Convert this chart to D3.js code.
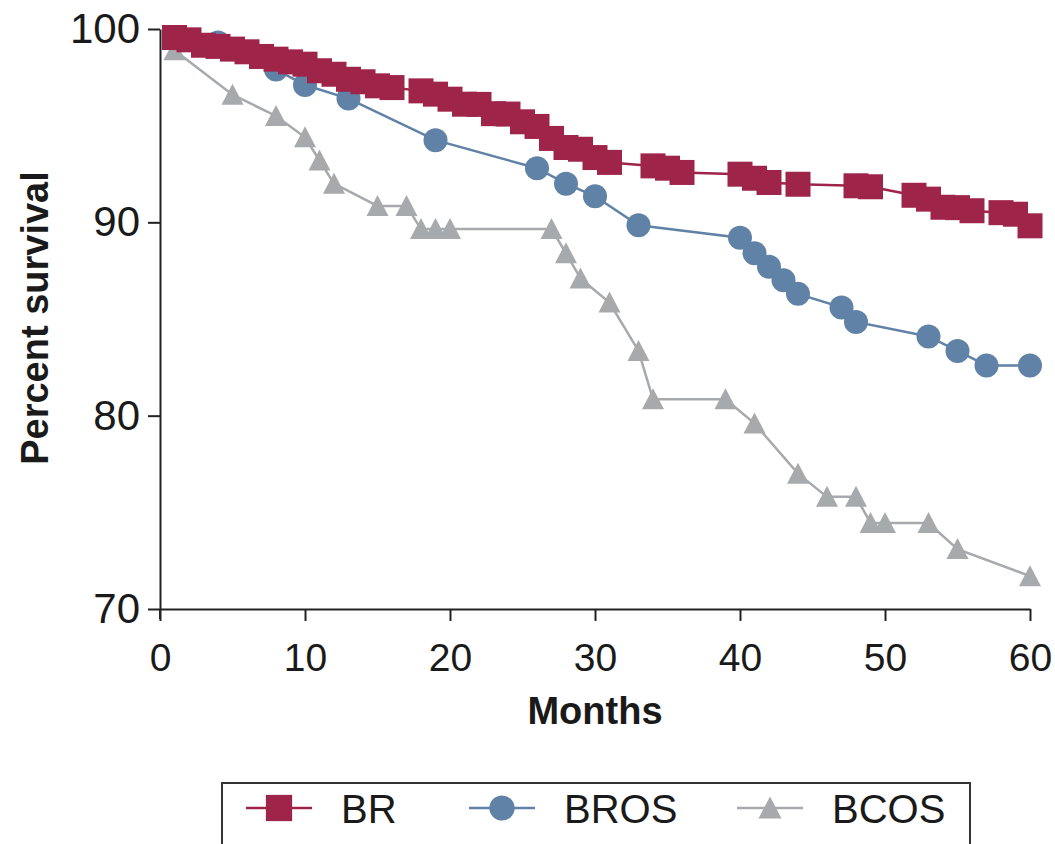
<!DOCTYPE html>
<html>
<head>
<meta charset="utf-8">
<script src="https://cdn.jsdelivr.net/npm/d3@7"></script>
<style>
  body { margin: 0; background: #fff; }
  svg { font-family: "Liberation Sans", Arial, Helvetica, sans-serif; }
</style>
</head>
<body>
<svg id="chart" width="1055" height="844"></svg>
<script>
// 数据
const brMonths = [1, 2, 3, 4, 5, 6, 7, 8, 9, 10, 11, 12, 13, 14, 15, 16, 18, 19, 20, 21, 22, 23, 24, 25, 26, 27, 28, 29, 30, 31, 34, 35, 36, 40, 41, 42, 44, 48, 49, 52, 53, 54, 55, 56, 58, 59, 60];
const brValues = [99.56, 99.44, 99.16, 99.1, 98.96, 98.82, 98.58, 98.44, 98.3, 98.18, 97.84, 97.66, 97.4, 97.27, 97.06, 96.97, 96.8, 96.63, 96.37, 96.11, 96.1, 95.62, 95.6, 95.2, 94.96, 94.34, 93.87, 93.78, 93.35, 93.1, 92.92, 92.8, 92.58, 92.49, 92.28, 92.06, 91.97, 91.89, 91.84, 91.4, 91.2, 90.78, 90.76, 90.6, 90.5, 90.42, 89.82];

const brosMonths = [4, 8, 10, 13, 19, 26, 28, 30, 33, 40, 41, 42, 43, 44, 47, 48, 53, 55, 57, 60];
const brosValues = [99.3, 97.9, 97.1, 96.4, 94.25, 92.8, 92.0, 91.35, 89.85, 89.2, 88.4, 87.7, 87.0, 86.3, 85.6, 84.85, 84.1, 83.35, 82.6, 82.6];

const bcosMonths = [1, 5, 8, 10, 11, 12, 15, 17, 18, 19, 20, 27, 28, 29, 31, 33, 34, 39, 41, 44, 46, 48, 49, 50, 53, 55, 60];
const bcosValues = [98.9, 96.6, 95.5, 94.4, 93.2, 92.0, 90.85, 90.85, 89.65, 89.65, 89.65, 89.65, 88.4, 87.1, 85.85, 83.35, 80.85, 80.85, 79.6, 77.0, 75.8, 75.8, 74.45, 74.45, 74.45, 73.1, 71.7];

const xTicks = [0, 10, 20, 30, 40, 50, 60];
const yTicks = [70, 80, 90, 100];
const seriesNames = ['BR', 'BROS', 'BCOS'];

const colors = {BR: '#9f2449', BROS: '#5f82a6', BCOS: '#a6aaac'};

const svg = d3.select('#chart');

const x = d3.scaleLinear().domain([0, 60]).range([160, 1030]);
const y = d3.scaleLinear().domain([70, 100]).range([609, 29]);

// 坐标轴
const xAxis = svg.append('g')
  .attr('transform', 'translate(0,609)')
  .call(d3.axisBottom(x).tickValues(xTicks).tickSize(12).tickPadding(22).tickSizeOuter(0));
const yAxis = svg.append('g')
  .attr('transform', 'translate(160,0)')
  .call(d3.axisLeft(y).tickValues(yTicks).tickSize(12).tickPadding(8).tickSizeOuter(0));

[xAxis, yAxis].forEach((g) => {
  g.select('.domain').attr('stroke', '#222').attr('stroke-width', 2);
  g.selectAll('.tick line').attr('stroke', '#222').attr('stroke-width', 2);
  g.selectAll('.tick text').attr('fill', '#1a1a1a')
    .style('font-family', '"Liberation Sans", Arial, sans-serif');
});
xAxis.selectAll('.tick text').style('font-size', '39px');
yAxis.selectAll('.tick text').style('font-size', '42px');
// y轴往下多出一点
svg.append('line')
  .attr('x1', 160).attr('x2', 160).attr('y1', 609).attr('y2', 619)
  .attr('stroke', '#222').attr('stroke-width', 2);

// 轴标题
svg.append('text')
  .attr('x', 595).attr('y', 724)
  .attr('text-anchor', 'middle')
  .style('font-size', '38px').style('font-weight', 'bold')
  .attr('fill', '#1a1a1a')
  .text('Months');
svg.append('text')
  .attr('transform', 'translate(48,318) rotate(-90)')
  .attr('text-anchor', 'middle')
  .style('font-size', '38px').style('font-weight', 'bold')
  .attr('fill', '#1a1a1a')
  .text('Percent survival');

// 标记形状
function marker(g, name, cx, cy, s) {
  const c = colors[name];
  s = s || 1;
  if (name === 'BR') {
    g.append('rect').attr('x', cx - 12.5 * s).attr('y', cy - 12.5 * s)
      .attr('width', 25 * s).attr('height', 25 * s).attr('fill', c);
  } else if (name === 'BROS') {
    g.append('circle').attr('cx', cx).attr('cy', cy).attr('r', 12 * s).attr('fill', c);
  } else {
    g.append('path')
      .attr('d', `M${cx},${cy - 11 * s}L${cx + 11 * s},${cy + 10 * s}L${cx - 11 * s},${cy + 10 * s}Z`)
      .attr('fill', c);
  }
}

const line = d3.line()
  .x((d) => {return x(d.m);})
  .y((d) => {return y(d.v);});

function drawSeries(name, months, values) {
  const pts = months.map((m, i) => ({m: m, v: values[i]}));
  const g = svg.append('g');
  g.append('path')
    .attr('d', line(pts))
    .attr('fill', 'none')
    .attr('stroke', colors[name])
    .attr('stroke-width', 2.5);
  pts.forEach((d) => marker(g, name, x(d.m), y(d.v)));
}

// 先画灰色, 最后画红色 (红色在最上面)
drawSeries('BCOS', bcosMonths, bcosValues);
drawSeries('BROS', brosMonths, brosValues);
drawSeries('BR', brMonths, brValues);

// 图例
svg.append('rect')
  .attr('x', 222).attr('y', 783).attr('width', 748).attr('height', 70)
  .attr('fill', 'none').attr('stroke', '#333').attr('stroke-width', 2);
const legendX = [279, 502, 770];
seriesNames.forEach((name, i) => {
  const g = svg.append('g');
  const cx = legendX[i];
  g.append('line')
    .attr('x1', cx - 33).attr('x2', cx + 33).attr('y1', 808).attr('y2', 808)
    .attr('stroke', colors[name]).attr('stroke-width', 2.5);
  marker(g, name, cx, 808, 1.05);
  g.append('text')
    .attr('x', cx + 62).attr('y', 823)
    .style('font-size', '40px')
    .attr('fill', '#1a1a1a')
    .text(name);
});
</script>
</body>
</html>
